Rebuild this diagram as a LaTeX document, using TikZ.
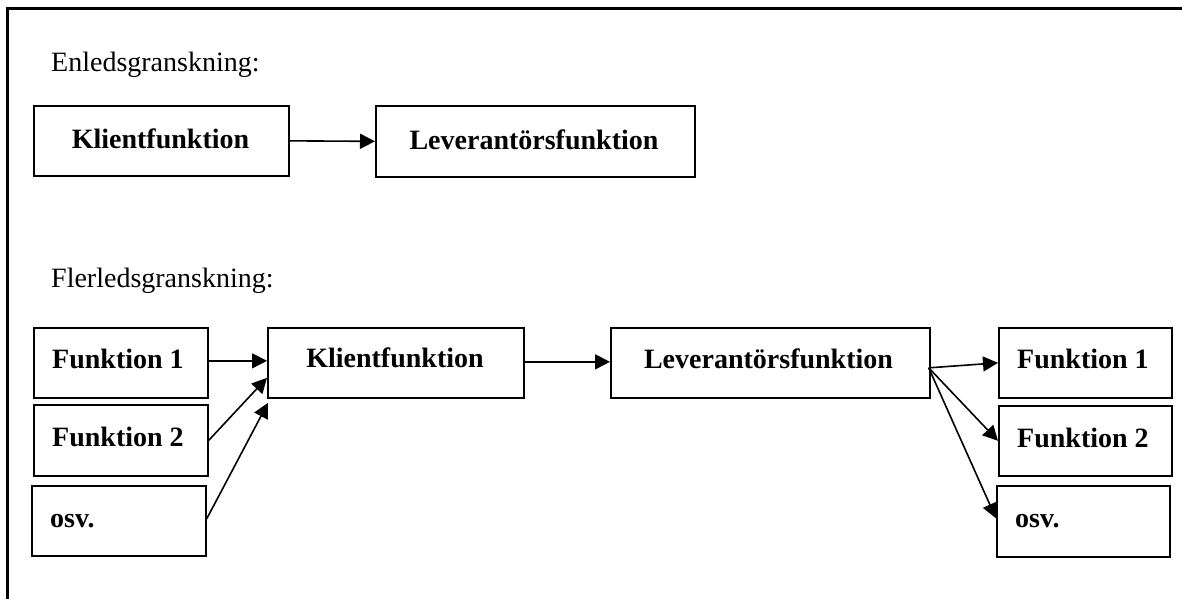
\documentclass[tikz,border=0pt]{standalone}
\usepackage{fontspec}
\setmainfont{Liberation Serif}
\usetikzlibrary{arrows.meta}
\begin{document}
\begin{tikzpicture}[x=1pt,y=-1pt,
  box/.style={draw=black,line width=1.7pt,rectangle,inner sep=0pt,anchor=north west},
  lbl/.style={inner sep=0pt,font=\fontsize{28}{32}\selectfont\bfseries},
  head/.style={inner sep=0pt,font=\fontsize{28}{32}\selectfont},
  conn/.style={line width=1.6pt,-{Triangle[length=15pt,width=15pt]}}]
\clip (0,0) rectangle (1182,599);
% outer frame (only the top and left edges lie inside the page)
\draw[line width=3pt] (7,620) -- (7,9) -- (1200,9);

% --- Enledsgranskning ---
\node[head,anchor=base west] (h1) at (51,72) {Enledsgranskning:};
\node[box,minimum width=255pt,minimum height=70pt] (k1) at (33,105) {};
\node[box,minimum width=319pt,minimum height=71pt] (l1) at (375,105) {};
\node[lbl,anchor=base] (k1t) at (160.5,148) {Klientfunktion};
\node[lbl,anchor=base] (l1t) at (534,149) {Leverantörsfunktion};
\draw[conn] (k1.east) -- (l1.west);

% --- Flerledsgranskning ---
\node[head,anchor=base west] (h2) at (51,287) {Flerledsgranskning:};
\node[box,minimum width=174pt,minimum height=70pt] (f1) at (33,327) {};
\node[box,minimum width=174pt,minimum height=71pt] (f2) at (33,404) {};
\node[box,minimum width=174pt,minimum height=70pt] (o1) at (31,485) {};
\node[box,minimum width=256pt,minimum height=70pt] (k2) at (267,327) {};
\node[box,minimum width=319pt,minimum height=70pt] (l2) at (610,327) {};
\node[box,minimum width=173pt,minimum height=70pt] (f3) at (998,327) {};
\node[box,minimum width=173pt,minimum height=70pt] (f4) at (998,405) {};
\node[box,minimum width=173pt,minimum height=71pt] (o2) at (996,485) {};

\node[lbl,anchor=base west] (f1t) at (52,368) {Funktion 1};
\node[lbl,anchor=base west] (f2t) at (52,446) {Funktion 2};
\node[lbl,anchor=base west] (o1t) at (50,527) {osv.};
\node[lbl,anchor=base] (k2t) at (395,367) {Klientfunktion};
\node[lbl,anchor=base] (l2t) at (768.5,368) {Leverantörsfunktion};
\node[lbl,anchor=base west] (f3t) at (1017,368) {Funktion 1};
\node[lbl,anchor=base west] (f4t) at (1017,447) {Funktion 2};
\node[lbl,anchor=base west] (o2t) at (1015,527) {osv.};

% inputs to the client function
\draw[conn] ([yshift=2pt]f1.east) -- ([yshift=2pt]k2.west);
\draw[conn] (f2.east) -- ([yshift=-15pt]k2.west);
\draw[conn] ([yshift=2pt]o1.east) -- ([xshift=1pt,yshift=-40pt]k2.west);
% client to supplier
\draw[conn] ([yshift=1pt]k2.east) -- ([yshift=1pt]l2.west);
% supplier to downstream functions
\coordinate (lout) at ([xshift=-2pt,yshift=-5pt]l2.east);
\draw[conn] (lout) -- (f3.west);
\draw[conn] (lout) -- (f4.west);
\draw[conn] (lout) -- ([yshift=3pt]o2.west);
\end{tikzpicture}
\end{document}
